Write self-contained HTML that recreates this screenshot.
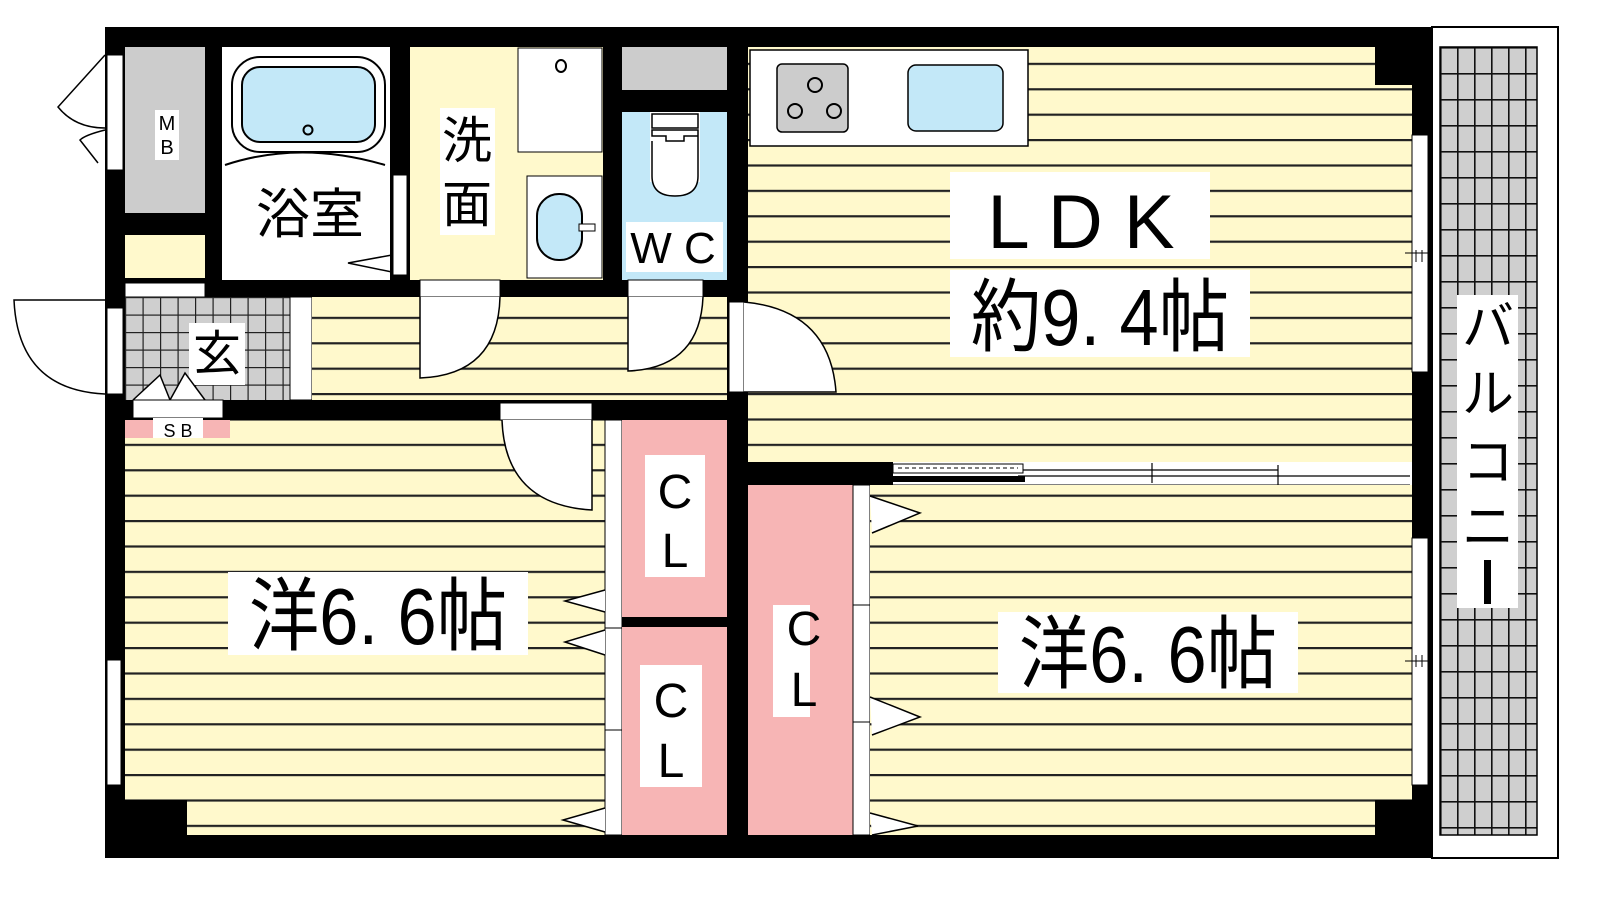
<!DOCTYPE html>
<html><head><meta charset="utf-8"><style>
html,body{margin:0;padding:0;background:#fff;}
svg{display:block}
text{font-family:"Liberation Sans","Noto Sans CJK JP",sans-serif;fill:#000}
</style></head><body>
<svg width="1600" height="900" viewBox="0 0 1600 900" xmlns="http://www.w3.org/2000/svg">
<defs>
<pattern id="st" patternUnits="userSpaceOnUse" width="40" height="25.4" y="12">
<rect width="40" height="25.4" fill="#fff9cc"/><rect y="0" width="40" height="2.2" fill="#222"/>
</pattern>
<pattern id="grid" patternUnits="userSpaceOnUse" width="17" height="26" x="1440" y="47">
<rect width="17" height="26" fill="#cfcfcf"/><rect width="17" height="1.6" fill="#111"/><rect width="1.6" height="26" fill="#111"/>
</pattern>
<pattern id="tile" patternUnits="userSpaceOnUse" width="17.5" height="17.5" x="125" y="297">
<rect width="17.5" height="17.5" fill="#cfcfcf"/><rect width="17.5" height="1.2" fill="#222"/><rect width="1.2" height="17.5" fill="#222"/>
</pattern>
</defs>

<!-- balcony -->
<rect x="1432" y="27" width="126" height="831" fill="#fff" stroke="#000" stroke-width="2"/>
<rect x="1440" y="47" width="97" height="788" fill="url(#grid)" stroke="#000" stroke-width="1.5"/>
<rect x="1457" y="295" width="61" height="313" fill="#fff"/>
<text x="1488" y="345" font-size="52" text-anchor="middle">バ</text>
<text x="1488" y="412" font-size="52" text-anchor="middle">ル</text>
<text x="1488" y="480" font-size="52" text-anchor="middle">コ</text>
<text x="1488" y="545" font-size="52" text-anchor="middle">ニ</text>
<rect x="1484" y="560" width="7" height="44" fill="#000"/>

<!-- outer black -->
<rect x="105" y="27" width="1327" height="831" fill="#000"/>

<!-- MB -->
<rect x="125" y="47" width="80" height="166" fill="#cccccc"/>
<rect x="155" y="110" width="24" height="50" fill="#fff"/>
<text x="167" y="130" font-size="20" text-anchor="middle">M</text>
<text x="167" y="154" font-size="20" text-anchor="middle">B</text>
<rect x="125" y="235" width="80" height="43" fill="#fff9cc"/>
<rect x="125" y="283" width="80" height="14" fill="#fff" stroke="#000"/>
<!-- left MB doors -->
<rect x="107" y="55" width="16" height="115" fill="#fff" stroke="#000"/>
<path d="M105,55 L58,107 Q75,128 105,128 M105,130 Q85,135 80,140 L98,163" fill="#fff" stroke="#000" stroke-width="1.5"/>

<!-- bath -->
<rect x="222" y="47" width="168" height="233" fill="#fff"/>
<rect x="232" y="57" width="153" height="95" rx="28" fill="#fff" stroke="#000" stroke-width="2"/>
<rect x="242" y="67" width="133" height="75" rx="18" fill="#c3e8f8" stroke="#000" stroke-width="2"/>
<circle cx="308" cy="130" r="4.5" fill="none" stroke="#000" stroke-width="2"/>
<path d="M225,165 Q300,140 385,165" fill="none" stroke="#000" stroke-width="2"/>
<text x="310" y="233" font-size="54" text-anchor="middle">浴室</text>
<rect x="393" y="175" width="14" height="100" fill="#fff" stroke="#000"/>
<path d="M392,255 L348,263 L392,272" fill="none" stroke="#000" stroke-width="1.5"/>

<!-- senmen -->
<rect x="410" y="47" width="193" height="233" fill="#fff9cc"/>
<rect x="518" y="48" width="84" height="104" fill="#fff" stroke="#000"/>
<ellipse cx="561" cy="66" rx="5" ry="6" fill="none" stroke="#000" stroke-width="2"/>
<rect x="527" y="176" width="75" height="102" fill="#fff" stroke="#000"/>
<rect x="537" y="194" width="45" height="66" rx="22" fill="#c3e8f8" stroke="#000" stroke-width="2"/>
<rect x="579" y="224" width="16" height="7" fill="#fff" stroke="#000"/>
<rect x="440" y="108" width="55" height="127" fill="#fff"/>
<text x="467" y="158" font-size="50" text-anchor="middle">洗</text>
<text x="467" y="222" font-size="50" text-anchor="middle">面</text>

<!-- WC -->
<rect x="622" y="47" width="105" height="43" fill="#cccccc"/>
<rect x="622" y="112" width="105" height="168" fill="#c3e8f8"/>
<rect x="650" y="112" width="50" height="70" fill="#fff"/>
<path d="M652,114 h46 v14 h-46z M652,130 h46 v6 h-14 v5 h-18 v-5 h-14z M652,141 v35 q0,20 23,20 q23,0 23,-20 v-40" fill="#fff" stroke="#000" stroke-width="1.5"/>
<rect x="626" y="222" width="97" height="50" fill="#fff"/>
<text x="673" y="263" font-size="44" text-anchor="middle">W C</text>

<!-- hall -->
<rect x="125" y="297" width="165" height="103" fill="url(#tile)"/>
<rect x="290" y="297" width="22" height="103" fill="#fff" stroke="#000"/>
<rect x="312" y="297" width="415" height="103" fill="url(#st)"/>
<rect x="189" y="323" width="56" height="62" fill="#fff"/>
<text x="217" y="370" font-size="48" text-anchor="middle">玄</text>
<!-- entrance door -->
<rect x="107" y="308" width="16" height="86" fill="#fff" stroke="#000"/>
<path d="M105,300 L14,300 Q18,390 105,394" fill="#fff" stroke="#000" stroke-width="1.5"/>
<!-- SB -->
<path d="M133,400 L160,375 L170,400 M170,400 L185,373 L205,400" fill="#fff" stroke="#000" stroke-width="1.5"/>
<rect x="133" y="400" width="90" height="18" fill="#fff" stroke="#000"/>
<rect x="125" y="420" width="105" height="18" fill="#f7b5b5"/>
<rect x="153" y="418" width="50" height="22" fill="#fff"/>
<text x="178" y="437" font-size="18" text-anchor="middle">S B</text>
<!-- doors to senmen & wc -->
<rect x="420" y="280" width="80" height="17" fill="#fff" stroke="#000"/>
<path d="M420,297 L420,378 Q498,375 500,297" fill="#fff" stroke="#000" stroke-width="1.5"/>
<rect x="628" y="280" width="75" height="17" fill="#fff" stroke="#000"/>
<path d="M628,297 L628,371 Q700,368 703,297" fill="#fff" stroke="#000" stroke-width="1.5"/>

<!-- LDK -->
<rect x="748" y="47" width="664" height="415" fill="url(#st)"/>
<rect x="1375" y="47" width="37" height="38" fill="#000"/>
<rect x="750" y="50" width="278" height="96" fill="#fff" stroke="#000" stroke-width="1.5"/>
<rect x="777" y="64" width="71" height="68" rx="5" fill="#cccccc" stroke="#000" stroke-width="1.5"/>
<g fill="none" stroke="#000" stroke-width="2"><circle cx="795" cy="111" r="7"/><circle cx="815" cy="85" r="7"/><circle cx="834" cy="111" r="7"/></g>
<rect x="908" y="65" width="95" height="66" rx="8" fill="#c3e8f8" stroke="#000" stroke-width="1.5"/>
<rect x="950" y="172" width="260" height="87" fill="#fff"/>
<text x="1081" y="248" font-size="76" text-anchor="middle">L D K</text>
<rect x="950" y="270" width="300" height="87" fill="#fff"/>
<text x="1100" y="345" font-size="80" text-anchor="middle" transform="translate(1100,0) scale(0.88,1) translate(-1100,0)">約9. 4帖</text>
<rect x="1412" y="135" width="16" height="237" fill="#fff" stroke="#000"/>
<path d="M1405,253 h28 M1416,250 v12 M1422,250 v12" stroke="#000"/>
<!-- LDK door -->
<rect x="729" y="302" width="15" height="90" fill="#fff" stroke="#000"/>
<path d="M744,302 Q830,310 836,392 L744,392" fill="#fff" stroke="#000" stroke-width="1.5"/>

<!-- window between LDK and bedroom -->
<rect x="893" y="462" width="519" height="23" fill="#fff"/>
<rect x="893" y="464" width="130" height="9" fill="#fff" stroke="#000"/>
<path d="M898,468 h120" stroke="#000" stroke-dasharray="4,3"/>
<rect x="893" y="476" width="132" height="6" fill="#000"/>
<path d="M1023,470 h255 M1023,478 h0 M977,473 h0 M1018,476 h392 M1152,463 v20 M1278,465 v20" stroke="#000" stroke-width="1.2"/>
<path d="M893,485 h517" stroke="#000"/>

<!-- left bedroom -->
<rect x="125" y="438" width="480" height="397" fill="url(#st)"/>
<rect x="230" y="420" width="375" height="18" fill="url(#st)"/>
<rect x="125" y="800" width="62" height="35" fill="#000"/>
<rect x="107" y="660" width="14" height="125" fill="#fff" stroke="#000"/>
<rect x="500" y="403" width="92" height="17" fill="#fff" stroke="#000"/>
<path d="M502,420 Q505,505 592,510 L592,420" fill="#fff" stroke="#000" stroke-width="1.5"/>
<rect x="228" y="572" width="300" height="83" fill="#fff"/>
<text x="378" y="644" font-size="80" text-anchor="middle" transform="translate(378,0) scale(0.88,1) translate(-378,0)">洋6. 6帖</text>
<!-- CL left -->
<rect x="605" y="420" width="17" height="415" fill="#fff" stroke="#000"/>
<path d="M605,525 v0 M605,628 h17 M605,730 h17" stroke="#000"/>
<path d="M605,590 L565,601 L605,612 M605,630 L565,642 L605,655 M605,808 L563,820 L605,832" fill="#fff" stroke="#000" stroke-width="1.5"/>
<rect x="622" y="420" width="105" height="197" fill="#f7b5b5"/>
<rect x="622" y="627" width="105" height="208" fill="#f7b5b5"/>
<rect x="645" y="455" width="60" height="122" fill="#fff"/>
<text x="675" y="508" font-size="48" text-anchor="middle">C</text>
<text x="675" y="567" font-size="48" text-anchor="middle">L</text>
<rect x="640" y="665" width="62" height="122" fill="#fff"/>
<text x="671" y="717" font-size="48" text-anchor="middle">C</text>
<text x="671" y="777" font-size="48" text-anchor="middle">L</text>

<!-- right CL + bedroom -->
<rect x="748" y="485" width="105" height="350" fill="#f7b5b5"/>
<rect x="773" y="605" width="37" height="112" fill="#fff"/>
<text x="804" y="645" font-size="48" text-anchor="middle">C</text>
<text x="804" y="706" font-size="48" text-anchor="middle">L</text>
<rect x="853" y="485" width="17" height="350" fill="#fff" stroke="#000"/>
<path d="M853,605 h17 M853,722 h17" stroke="#000"/>
<rect x="870" y="485" width="542" height="350" fill="url(#st)"/>
<path d="M870,496 L920,513 L872,533 M870,697 L920,717 L872,735 M870,813 L918,826 L872,835" fill="#fff" stroke="#000" stroke-width="1.5"/>
<rect x="1375" y="800" width="37" height="35" fill="#000"/>
<rect x="1412" y="538" width="16" height="247" fill="#fff" stroke="#000"/>
<path d="M1405,661 h28 M1416,655 v12 M1422,655 v12" stroke="#000"/>
<rect x="998" y="612" width="300" height="81" fill="#fff"/>
<text x="1148" y="682" font-size="80" text-anchor="middle" transform="translate(1148,0) scale(0.88,1) translate(-1148,0)">洋6. 6帖</text>
</svg>
</body></html>
